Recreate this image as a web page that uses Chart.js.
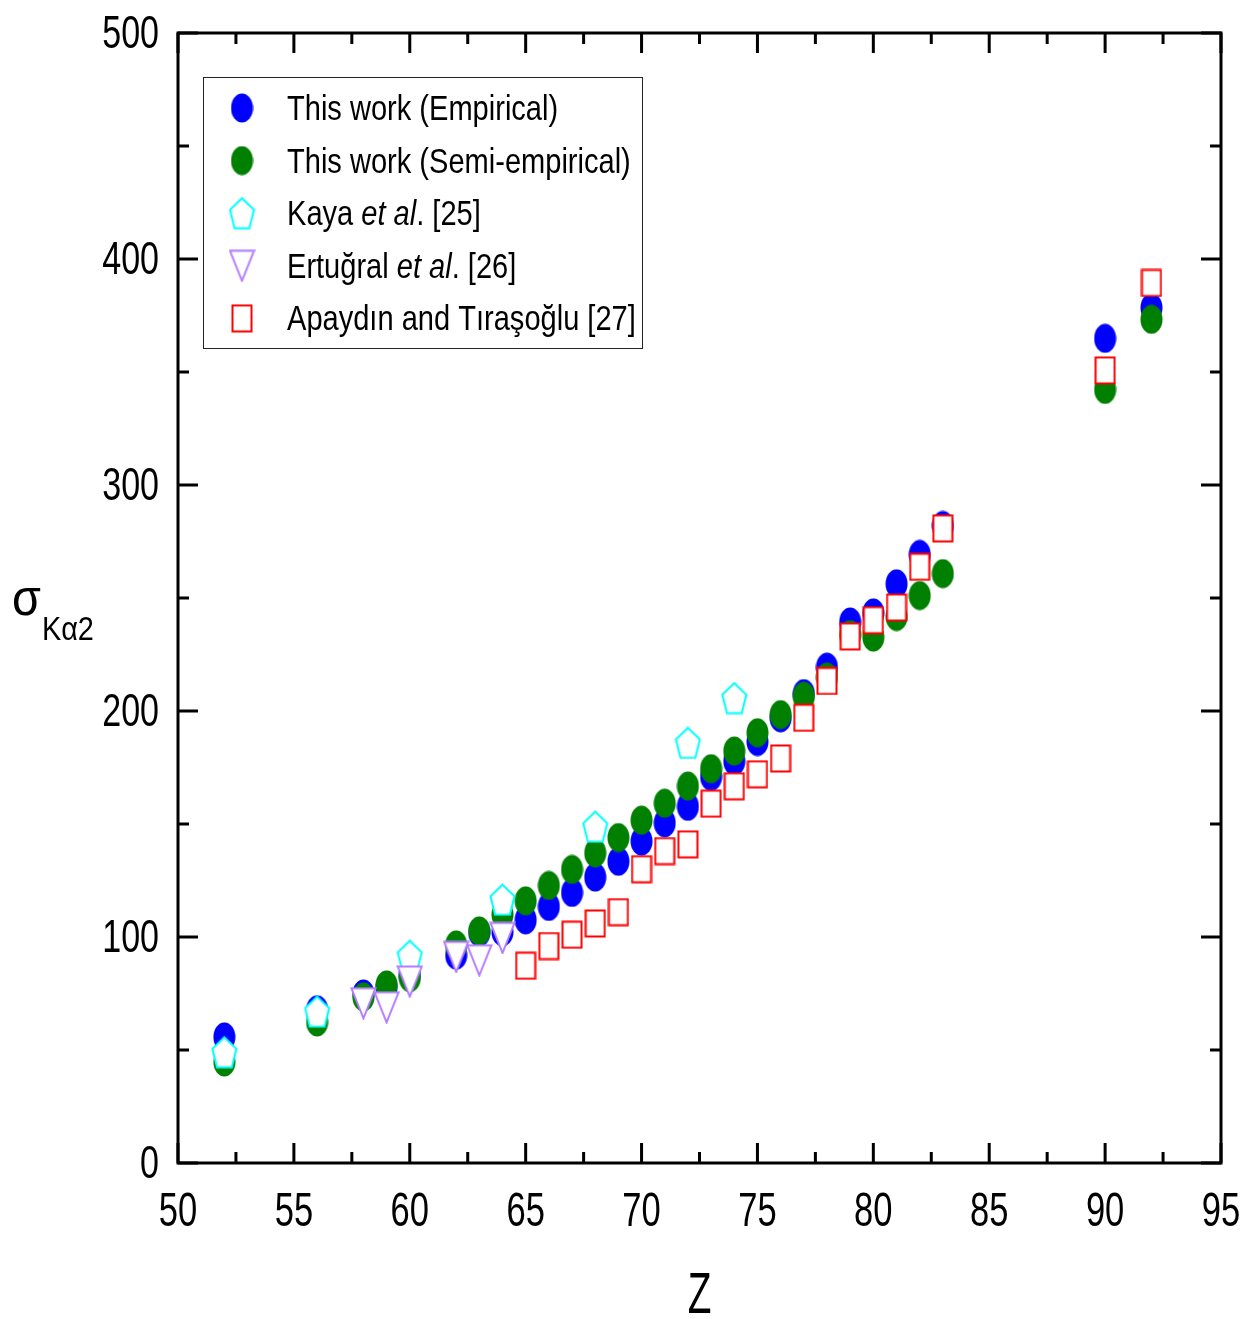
<!DOCTYPE html>
<html>
<head>
<meta charset="utf-8">
<script src="https://cdn.jsdelivr.net/npm/chart.js@4.4.1/dist/chart.umd.min.js"></script>
<style>
  html, body { margin: 0; padding: 0; background: #fff; }
</style>
</head>
<body>
<canvas id="sigmachart" width="1246" height="1319"></canvas>
<script>
// atomic numbers and cross sections
const zWork = [52, 56, 58, 59, 60, 62, 63, 64, 65, 66, 67, 68, 69, 70, 71, 72, 73, 74, 75, 76, 77, 78, 79, 80, 81, 82, 83, 90, 92];
const empirical = [55.8, 67.8, 74.8, 78, 83.3, 92, 102, 102.3, 107.6, 113.5, 119.7, 126.5, 133.5, 142.4, 150.5, 157.8, 171, 177.8, 186.5, 197, 207.7, 219.4, 239.4, 243.4, 256.3, 269.3, 282.1, 364.9, 378.5];
const semiEmpirical = [44.7, 62.4, 73.5, 78.8, 82, 96.5, 102.7, 110, 116, 122.8, 129.9, 137.2, 144, 151.7, 159.2, 166.8, 174.5, 182.3, 190.4, 198.4, 206.5, 215, 233.8, 232.7, 241.8, 251.1, 260.8, 342.3, 373.3];

const zKaya = [52, 56, 60, 64, 68, 72, 74];
const kaya = [49, 67, 91.7, 116.5, 148.8, 185.9, 205.7];

const zErtugral = [58, 59, 60, 62, 63, 64];
const ertugral = [70.7, 68.9, 80.3, 91.2, 89.7, 99.6];

const zApaydin = [65, 66, 67, 68, 69, 70, 71, 72, 73, 74, 75, 76, 77, 78, 79, 80, 81, 82, 83, 90, 92];
const apaydin = [87.3, 96, 101, 106, 111, 130, 138, 141, 159, 166.7, 172, 179, 197, 213.3, 233, 240.2, 245.8, 263.8, 280.8, 350.7, 389.4];

const legendLabels = [
  [['This work (Empirical)', false]],
  [['This work (Semi-empirical)', false]],
  [['Kaya ', false], ['et al', true], ['. [25]', false]],
  [['Ertuğral ', false], ['et al', true], ['. [26]', false]],
  [['Apaydın and Tıraşoğlu [27]', false]]
];

const toPoints = (xs, ys) => xs.map((x, i) => ({ x: x, y: ys[i] }));

// marker images (the symbols in the figure are a bit taller than wide)
function marker(w, h, draw) {
  const c = document.createElement('canvas');
  c.width = w; c.height = h;
  draw(c.getContext('2d'), w, h);
  return c;
}
function ellipse(col) {
  return marker(23, 30, (g, w, h) => {
    g.beginPath();
    g.ellipse(w / 2, h / 2, w / 2 - 0.5, h / 2 - 0.5, 0, 0, Math.PI * 2);
    g.fillStyle = col; g.fill();
  });
}
const blueDot = ellipse('#0000ff');
const greenDot = ellipse('#008000');
const squareMark = marker(22, 29, (g, w, h) => {
  g.fillStyle = '#fff'; g.fillRect(1.5, 1.5, w - 3, h - 3);
  g.strokeStyle = '#ff0000'; g.lineWidth = 2; g.strokeRect(1.5, 1.5, w - 3, h - 3);
});
const pentaMark = marker(27, 33, (g, w, h) => {
  const rx = (w - 3) / 1.902, ry = (h - 3) / 1.809;
  const cy = 1.5 + ry;
  g.beginPath();
  for (let k = 0; k < 5; k++) {
    const a = -Math.PI / 2 + k * 2 * Math.PI / 5;
    const px = w / 2 + Math.cos(a) * rx, py = cy + Math.sin(a) * ry;
    if (k === 0) g.moveTo(px, py); else g.lineTo(px, py);
  }
  g.closePath();
  g.fillStyle = '#fff'; g.fill();
  g.strokeStyle = '#00ffff'; g.lineWidth = 2; g.stroke();
});
const triMark = marker(27, 33, (g, w, h) => {
  g.beginPath();
  g.moveTo(1.5, 1.5); g.lineTo(w - 1.5, 1.5); g.lineTo(w / 2, h - 1.5);
  g.closePath();
  g.fillStyle = '#fff'; g.fill();
  g.strokeStyle = '#b37cff'; g.lineWidth = 2; g.stroke();
});

const TXT = '"Liberation Sans", Arial, sans-serif';

// the figure's lettering is a condensed sans, so squeeze it sideways
function squeezeText(ctx, str, x, y, size, italic, sx, align) {
  ctx.save();
  ctx.font = (italic ? 'italic ' : '') + size + 'px ' + TXT;
  ctx.textAlign = align || 'left';
  ctx.textBaseline = 'alphabetic';
  ctx.translate(x, y);
  ctx.scale(sx, 1);
  ctx.fillText(str, 0, 0);
  const w = ctx.measureText(str).width * sx;
  ctx.restore();
  return w;
}

// frame, inward ticks, tick labels, axis titles and legend box
const framePlugin = {
  id: 'frame',
  afterDraw(chart) {
    const ctx = chart.ctx, a = chart.chartArea;
    const xs = chart.scales.x, ys = chart.scales.y;
    ctx.save();
    ctx.strokeStyle = '#000';
    ctx.lineWidth = 3;
    ctx.strokeRect(a.left, a.top, a.right - a.left, a.bottom - a.top);
    ctx.beginPath();
    for (let v = 50; v <= 95; v += 2.5) {
      const px = xs.getPixelForValue(v);
      const len = v % 5 === 0 ? 20 : 11;
      ctx.moveTo(px, a.bottom); ctx.lineTo(px, a.bottom - len);
      ctx.moveTo(px, a.top); ctx.lineTo(px, a.top + len);
    }
    for (let v = 0; v <= 500; v += 50) {
      const py = ys.getPixelForValue(v);
      const len = v % 100 === 0 ? 20 : 11;
      ctx.moveTo(a.left, py); ctx.lineTo(a.left + len, py);
      ctx.moveTo(a.right, py); ctx.lineTo(a.right - len, py);
    }
    ctx.stroke();

    ctx.fillStyle = '#000';
    xs.ticks.forEach(t => {
      squeezeText(ctx, String(t.value), xs.getPixelForValue(t.value), 1226, 48, false, 0.72, 'center');
    });
    ys.ticks.forEach(t => {
      squeezeText(ctx, String(t.value), 159, ys.getPixelForValue(t.value) + 15, 46, false, 0.74, 'right');
    });

    squeezeText(ctx, 'Z', (a.left + a.right) / 2, 1313, 57, false, 0.68, 'center');
    const sw = squeezeText(ctx, 'σ', 12, 615, 52, false, 0.9);
    squeezeText(ctx, 'Kα2', 12 + sw + 1, 640, 34, false, 0.85);

    // legend
    ctx.lineWidth = 1;
    ctx.strokeStyle = '#222';
    ctx.strokeRect(203.5, 77.5, 439, 271);
    const marks = [blueDot, greenDot, pentaMark, triMark, squareMark];
    legendLabels.forEach((parts, i) => {
      const base = 120 + i * 52.6;
      const m = marks[i];
      ctx.drawImage(m, 242 - m.width / 2, base - 12 - m.height / 2);
      let tx = 287;
      parts.forEach(p => { tx += squeezeText(ctx, p[0], tx, base, 35, p[1], 0.83); });
    });
    ctx.restore();
  }
};

new Chart(document.getElementById('sigmachart'), {
  type: 'scatter',
  data: {
    datasets: [
      { label: 'This work (Empirical)', data: toPoints(zWork, empirical), pointStyle: blueDot, order: 5 },
      { label: 'This work (Semi-empirical)', data: toPoints(zWork, semiEmpirical), pointStyle: greenDot, order: 4 },
      { label: 'Kaya et al. [25]', data: toPoints(zKaya, kaya), pointStyle: pentaMark, order: 3 },
      { label: 'Ertuğral et al. [26]', data: toPoints(zErtugral, ertugral), pointStyle: triMark, order: 2 },
      { label: 'Apaydın and Tıraşoğlu [27]', data: toPoints(zApaydin, apaydin), pointStyle: squareMark, order: 1 }
    ]
  },
  options: {
    responsive: false,
    devicePixelRatio: 1,
    animation: false,
    layout: { padding: { top: 33, right: 25, left: 0, bottom: 0 } },
    plugins: {
      legend: { display: false },
      tooltip: { enabled: false }
    },
    scales: {
      x: {
        type: 'linear',
        min: 50,
        max: 95,
        grid: { display: false, drawTicks: false },
        border: { display: false },
        ticks: { stepSize: 5, display: false },
        afterFit(s) { s.height = 156; }
      },
      y: {
        min: 0,
        max: 500,
        grid: { display: false, drawTicks: false },
        border: { display: false },
        ticks: { stepSize: 100, display: false },
        afterFit(s) { s.width = 178; }
      }
    }
  },
  plugins: [framePlugin]
});
</script>
</body>
</html>
